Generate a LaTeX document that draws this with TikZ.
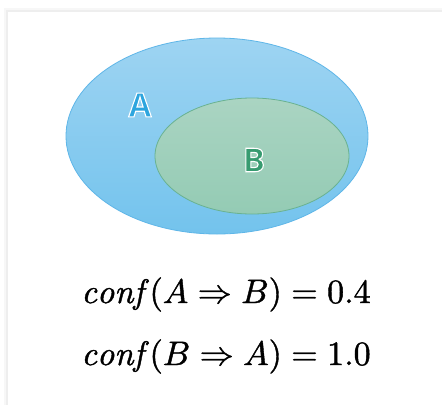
\documentclass[tikz,border=0pt]{standalone}
\usepackage{fontspec}
\usepackage{amsmath}
\usepackage{graphicx}
\newfontfamily\labelfont{Open Sans}[UprightFont=* Bold]
\newcommand{\outlined}[1]{\special{pdf:literal direct 2 Tr 1.1 w 1 1 1 RG}#1\special{pdf:literal direct 0 Tr}}
\newcommand{\heavier}[1]{\special{pdf:literal direct 2 Tr 0.12 w 0 0 0 RG}#1\special{pdf:literal direct 0 Tr}}
\definecolor{afill}{RGB}{158,212,242}
\definecolor{afillb}{RGB}{115,195,237}
\definecolor{aedge}{RGB}{95,182,232}
\definecolor{bfill}{RGB}{170,212,194}
\definecolor{bfillb}{RGB}{148,203,180}
\definecolor{bedge}{RGB}{105,178,145}
\definecolor{alabel}{RGB}{45,165,222}
\definecolor{blabel}{RGB}{55,155,112}
\definecolor{shadow}{RGB}{238,238,238}
\usetikzlibrary{shapes.geometric}
\begin{document}
\begin{tikzpicture}[x=1pt,y=-1pt,
  setlabel/.style={font=\labelfont\fontsize{33}{33}\selectfont, inner sep=0pt},
  formula/.style={inner sep=0pt, anchor=base}]
\useasboundingbox (0,0) rectangle (442,405);
\fill[white] (0,0) rectangle (442,405);
% soft frame shadow
\fill[shadow!50] (4,8) rectangle (442,405);
\fill[shadow] (6,10) rectangle (442,405);
\fill[white] (8,12) rectangle (442,405);
% ellipse A
\path[top color=afill, bottom color=afillb, draw=aedge, line width=0.8pt]
  (217,136) ellipse [x radius=151, y radius=98];
\coordinate (A) at (217,136);
% ellipse B
\path[top color=bfill, bottom color=bfillb, draw=bedge, line width=0.8pt]
  (252,156) ellipse [x radius=97, y radius=58];
\coordinate (B) at (252,156);
\node[setlabel, text=alabel] (la) at (140,105) {\outlined{A}};
\node[setlabel, text=blabel] (lb) at (254,160) {\outlined{B}};
% formulas
\node[formula] (f1) at (226,303) {\scalebox{3.4}{\heavier{$\mathit{conf}\,(A \Rightarrow B) = 0.4$}}};
\node[formula] (f2) at (226,365) {\scalebox{3.4}{\heavier{$\mathit{conf}\,(B \Rightarrow A) = 1.0$}}};
\end{tikzpicture}
\end{document}
